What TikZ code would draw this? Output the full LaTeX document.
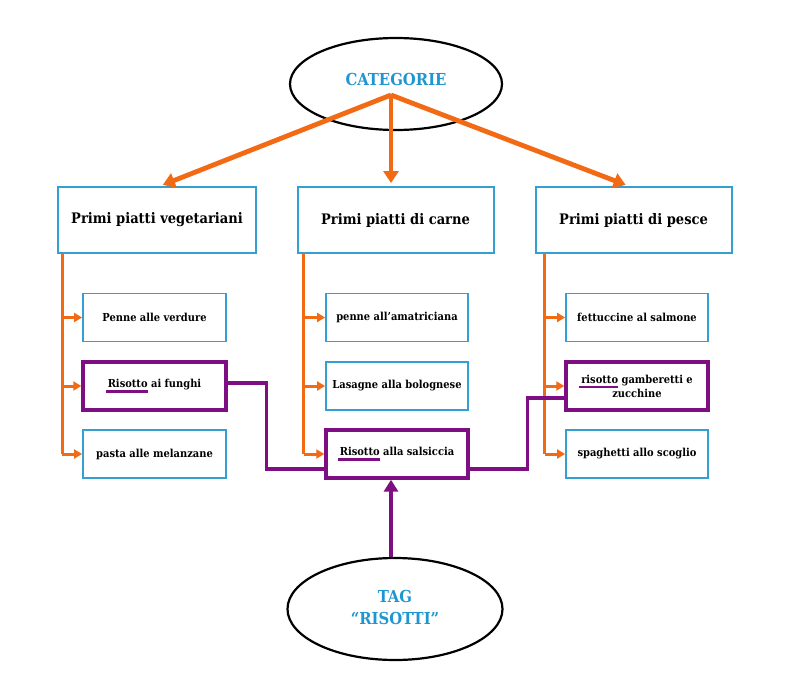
\documentclass[tikz,border=0pt]{standalone}
\usepackage{fontspec}
\setmainfont{DejaVu Serif Condensed}
\usetikzlibrary{arrows.meta,shapes.geometric}
\definecolor{orng}{RGB}{242,106,20}
\definecolor{bluebd}{RGB}{52,160,210}
\definecolor{bluetx}{RGB}{30,150,210}
\definecolor{purp}{RGB}{125,15,130}
\newcommand\risul[1]{\setbox0\hbox{#1}\rlap{\kern-2pt\textcolor{purp}{\rule[-5pt]{\dimexpr\wd0+2pt\relax}{2.4pt}}}\box0\relax}
\begin{document}
\begin{tikzpicture}[x=1pt,y=-1pt,
  catbox/.style={draw=bluebd, line width=2pt, minimum width=196pt, minimum height=66pt, inner sep=0pt,
    font=\bfseries\fontsize{14.5}{17}\selectfont},
  itembox/.style={draw=bluebd, line width=1.8pt, minimum width=142pt, minimum height=48pt, inner sep=0pt,
    align=center, font=\bfseries\fontsize{11}{14}\selectfont},
  tagbox/.style={itembox, draw=purp, line width=3.4pt},
  oval/.style={ellipse, draw=black, line width=2.2pt, inner sep=0pt, text=bluetx, align=center,
    font=\bfseries\fontsize{16.5}{22}\selectfont},
  bigarrow/.style={draw=orng, line width=4.8pt, -{Triangle[width=15pt,length=12pt]}},
  trunk/.style={draw=orng, line width=3pt},
  branch/.style={draw=orng, line width=3pt, -{Triangle[width=9pt,length=8pt]}},
  pline/.style={draw=purp, line width=3.2pt},
  parrow/.style={draw=purp, line width=4.8pt, -{Triangle[width=14pt,length=12pt]}}
]
\useasboundingbox (0,0) rectangle (800,696);
\fill[white] (0,0) rectangle (800,696);

\node[oval, minimum width=212pt, minimum height=92pt] (cat) at (396,84) {\raisebox{9pt}{CATEGORIE}};
\coordinate (apex) at (391,95);

\node[catbox, minimum width=198pt] (c1) at (157,220) {Primi piatti vegetariani};
\node[catbox] (c2) at (395.5,220) {Primi piatti di carne};
\node[catbox] (c3) at (633.5,220) {Primi piatti di pesce};

\node[itembox, minimum width=143pt] (i11) at (154.5,317.5) {Penne alle verdure};
\node[tagbox, minimum width=143pt] (i12) at (154.5,386) {\risul{Risotto} ai funghi};
\node[itembox, minimum width=143pt] (i13) at (154.5,454) {pasta alle melanzane};

\node[itembox] (i21) at (397,317.5) {penne all’amatriciana};
\node[itembox] (i22) at (397,386) {Lasagne alla bolognese};
\node[tagbox] (i23) at (397,454) {\risul{Risotto} alla salsiccia};

\node[itembox] (i31) at (637,317.5) {fettuccine al salmone};
\node[tagbox] (i32) at (637,386) {\risul{risotto} gamberetti e\\zucchine};
\node[itembox] (i33) at (637,454) {spaghetti allo scoglio};

\node[oval, minimum width=215pt, minimum height=102pt] (tag) at (395,609) {\raisebox{3pt}{TAG}\\\raisebox{3pt}{“RISOTTI”}};

% category arrows
\draw[bigarrow, shorten >=3pt] (apex) -- ([xshift=3pt]c1.north);
\draw[bigarrow, shorten >=3pt] (apex) -- (apex |- c2.north);
\draw[bigarrow, shorten >=3pt] (apex) -- ([xshift=-5pt]c3.north);

% trunks and branches
\coordinate (t1) at ([xshift=5pt]c1.south west);
\coordinate (t2) at ([xshift=7pt]c2.south west);
\coordinate (t3) at ([xshift=10pt]c3.south west);
\draw[trunk] (t1) -- (t1 |- i13.west);
\draw[trunk] (t2) -- (t2 |- i23.west);
\draw[trunk] (t3) -- (t3 |- i33.west);
\foreach \t/\a/\b/\c in {t1/i11/i12/i13, t2/i21/i22/i23, t3/i31/i32/i33}{
  \draw[branch] (\t |- \a.west) -- (\a.west);
  \draw[branch] (\t |- \b.west) -- (\b.west);
  \draw[branch] (\t |- \c.west) -- (\c.west);
}

% purple connectors
\draw[pline] ([yshift=3pt]i12.east) -- ++(39,0) |- ([yshift=-15pt]i23.west);
\draw[pline] ([yshift=-15pt]i23.east) -- ++(58,0) |- ([yshift=-12pt]i32.west);
\draw[parrow] (tag.north -| apex) -- (apex |- i23.south);
\end{tikzpicture}
\end{document}
